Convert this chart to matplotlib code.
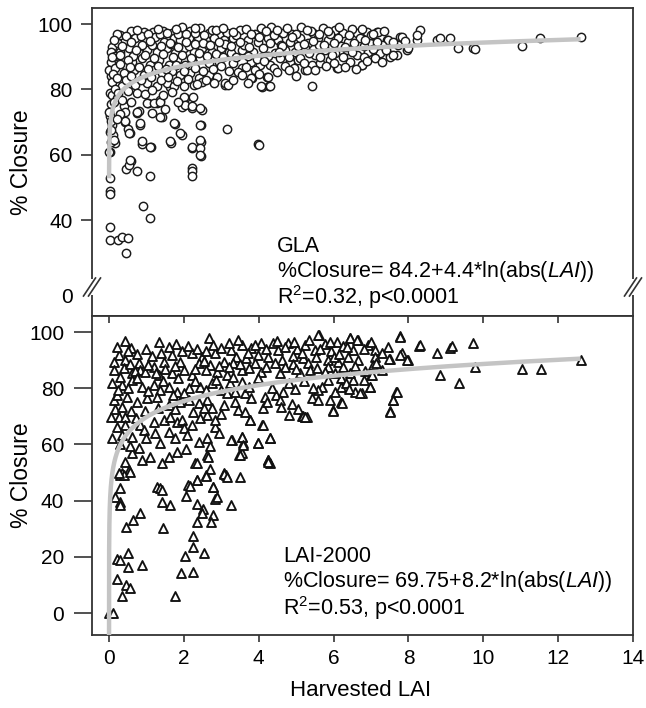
import numpy as np
import matplotlib
matplotlib.use("Agg")
import matplotlib.pyplot as plt
from matplotlib.lines import Line2D
from matplotlib.patches import Rectangle

plt.rcParams['font.family'] = ['Liberation Sans', 'DejaVu Sans']
plt.rcParams['mathtext.fontset'] = 'custom'
plt.rcParams['mathtext.rm'] = 'Liberation Sans'
plt.rcParams['mathtext.it'] = 'Liberation Sans:italic'

# ---------------- data ----------------
gla_pts = [
    (0.02,61),(0.02,53),(0.03,49),(0.03,48),(0.03,38),(0.03,34),(0.25,34),(0.35,35),(0.5,34.6),(0.45,30),
    (0.6,58.2),(0.45,55.7),(0.53,57),(0.75,55),(1.1,53.6),(0.9,44.4),(1.1,40.7),(2.22,56),(2.22,55),(2.22,53.6),
    (2.46,59.7),(2.22,62),(0.02,67),(0.08,69),(0.16,63.6),(0.56,66.7),(0.88,63.4),(1.12,62.5),(0.83,69.2),(0.43,70),
    (0.5,68),(1.42,71.5),(1.76,69.5),(1.95,66),(1.65,63.7),(2.46,64),(2.46,69),(3.15,68),(3.98,63.4),(4.0,63.0),
    (0.75,72.8),(0.8,73.5),(1.05,75.8),(1.28,75.8),(1.36,76.8),(1.95,74.7),(2.22,74.3),(2.49,73.7),(2.03,77.4),(2.25,77.7),
    (1.63,80.8),(3.1,81.4),(4.09,80.7),(4.28,81),(5.43,81),(4.22,83.8),(3.82,83.4),(5.24,86),(6.1,86.5),
    (6.76,87.5),(7.7,90.5),(7.97,92),(8.3,98.2),(8.23,95),(8.77,95),(8.85,95.7),(9.12,95.7),(9.33,92.7),(9.73,92.7),
    (9.78,92.3),(11.04,93.3),(11.52,95.7),(12.6,96),(7.78,96),(7.17,97.6),(7.43,95),(7.5,90.5),(7.2,91),
    (0.05,84),(0.02,79),(0.06,75.5),(0.03,72),(0.1,66),(0.05,64),
    (0.6,97.9),(0.93,97.7),(1.18,97.7),(1.43,97.9),(1.68,97.2),(1.95,99.2),(2.17,97.9),(2.42,98.7),(2.66,97.2),(2.93,96.6),(3.15,97.2),
    (0.08,93),(0.24,94.1),(0.44,95.1),(0.7,95.6),(0.97,95.1),(1.24,96.1),(1.46,94.6),(1.73,95.6),(1.9,95.1),(2.13,95.6),
    (2.38,96.1),(2.58,95.1),(2.8,95.6),(3.07,95.1),
    (0.04,91.5),(0.3,91.5),(0.53,92.6),(0.79,91),(1.02,92),(1.28,91.5),(1.55,92.6),(1.77,91),(2.0,92.6),(2.26,91.5),
    (2.49,92.6),(2.75,91.5),(2.98,92.6),(3.2,91.5),
    (0.04,88.5),(0.21,89.5),(0.44,87.5),(0.62,88.5),(0.88,89.5),(1.1,87.5),(1.33,89),(1.6,87.5),(1.82,89),(2.04,87.5),
    (2.22,88.5),(2.44,89.5),(2.66,88),(2.93,88.5),
    (0.0,86),(0.17,86.5),(0.39,85),(0.66,86),(0.93,84.4),(1.19,86),(1.42,85),(1.68,85.5),(1.9,84.4),(2.17,85),
    (2.4,83.4),(2.66,84.4),(2.89,83.9),(3.11,81.9),
    (0.08,82.4),(0.35,80.9),(0.7,81.4),(1.02,81.9),(1.28,80.9),(1.55,81.9),(1.73,80.9),(2.0,80.9),(2.26,81.4),(2.49,82.4),
    (0.08,78.3),(0.21,77.3),(0.75,78.8),(1.02,75.8),(1.2,75.8),(1.37,76.3),(1.68,79.3),(2.0,77.8),(2.04,75.3),(2.22,74.8),(2.44,74.3),
    (0.0,73.2),(0.04,70.2),(0.39,74.8),(0.44,73.2),(0.75,73.2),(0.84,69.7),(0.42,70.2),(0.53,66.6),(1.37,71.7),(1.73,69.7),(2.44,69.2),
    (0.04,67.6),(0.13,64.6),(0.88,64.1),(1.1,62.5),(1.64,64.1),(1.9,66.6),(2.22,62.5),(2.44,64.6),(2.44,62),(2.44,60),(0.0,61),(0.57,58.5),
    (3.5,98.2),(4.07,98.7),(4.34,99.2),(4.65,97.2),(5.14,99.2),(5.46,97.2),(5.72,98.7),(6.04,98.2),(6.26,97.2),(6.62,97.2),
    (6.89,97.7),(7.2,97.7),(7.82,96.1),(8.22,96.6),
    (3.31,95.6),(3.71,95.1),(3.98,94.6),(4.25,95.6),(4.52,95.1),(4.83,94.6),(5.1,95.6),(5.32,94.1),(5.59,95.6),(5.86,95.1),
    (6.12,95.6),(6.39,94.6),(6.71,95.6),(6.98,94.1),(7.46,95.1),(7.73,93.6),
    (3.27,91),(3.54,92.1),(3.85,91.5),(4.12,92.6),(4.43,91),(4.7,92.1),(4.97,91.5),(5.23,92.6),(5.5,90.5),(5.77,92.1),
    (6.04,91),(6.35,92.1),(6.62,90.5),(6.93,91.5),(7.24,91),(7.51,90),(8.0,92.6),
    (3.31,88),(3.54,86.5),(3.8,88.5),(4.03,87.5),(4.29,87.5),(4.56,89.5),(4.83,88.5),(5.05,89),(5.41,87.5),(5.64,88),
    (5.9,89),(6.12,86.5),(6.44,88.5),(6.75,87.5),(7.11,89.5),(7.6,90.5),
    (3.18,81.4),(3.8,83.4),(4.25,83.9),(4.07,80.9),(4.29,80.9),(5.28,86),(3.45,85.4),
    (0.3,96.5),(0.85,96.3),(1.35,96.8),(1.85,97.0),(2.3,97.3),(2.75,98.3),(3.4,96.6),(3.9,97.0),(4.4,96.5),(4.9,96.8),
    (5.4,98.0),(5.9,96.8),(6.5,98.5),(7.0,96.5),(0.15,90.2),(0.65,90.3),(1.15,93.5),(1.65,93.8),(2.15,93.4),(2.65,93.7),
    (3.1,93.8),(3.6,93.6),(4.1,90.0),(4.6,93.6),(5.05,93.3),(5.6,93.5),(6.2,93.4),(6.8,93.2),(7.3,93.6),
    (0.2,97.0),(0.45,96.2),(0.75,98.3),(1.05,96.9),(1.3,98.6),(1.55,97.4),(1.8,98.4),(2.05,96.8),(2.3,98.9),(2.55,96.6),
    (2.85,98.1),(3.05,98.8),(3.3,97.6),(3.65,98.4),(3.8,96.9),(4.2,97.9),(4.5,98.3),(4.75,98.8),(5.0,96.9),(5.3,98.1),
    (5.6,96.8),(5.85,97.8),(6.15,99.0),(6.4,96.5),(6.75,98.6),(7.05,97.0),(7.35,98.0),
    (0.12,95.2),(0.35,93.3),(0.58,94.4),(0.88,93.6),(1.1,94.8),(1.4,93.2),(1.62,94.3),(1.85,93.1),(2.05,94.6),(2.3,93.9),
    (2.52,94.3),(2.7,93.5),(2.95,94.4),(3.25,93.3),(3.5,94.5),(3.75,93.1),(4.0,96.0),(4.3,94.1),(4.62,93.4),(4.9,95.9),
    (5.2,93.9),(5.45,94.9),(5.75,93.6),(6.0,94.3),(6.3,93.1),(6.55,94.2),(6.85,95.2),(7.15,94.6),(7.6,94.4),(7.9,94.9),
    (0.08,89.8),(0.28,90.6),(0.5,89.1),(0.72,92.0),(0.95,90.4),(1.2,89.5),(1.45,90.9),(1.7,89.9),(1.95,90.6),(2.18,89.7),
    (2.4,91.2),(2.62,90.1),(2.85,90.8),(3.05,89.9),(3.4,89.8),(3.7,90.3),(3.95,89.4),(4.25,90.2),(4.55,91.3),(4.8,90.0),
    (5.1,89.6),(5.35,91.0),(5.65,90.0),(5.95,90.4),(6.25,89.9),(6.5,91.3),(6.8,90.0),(7.05,92.3),(7.4,92.0),
    (0.1,84.8),(0.3,87.8),(0.55,87.0),(0.8,86.8),(1.05,86.1),(1.3,87.3),(1.52,86.3),(1.78,87.4),(2.0,85.7),(2.3,86.6),
    (2.5,85.5),(2.78,86.3),(3.0,87.1),(3.2,85.7),(3.65,87.0),(3.9,86.0),(4.15,88.6),(4.4,86.7),(4.7,87.1),(4.95,86.7),
    (5.2,88.1),(5.5,86.0),(5.8,87.2),(6.0,88.0),(6.3,87.0),(6.6,86.3),(6.9,88.8),(7.3,88.4),
    (0.2,83.6),(0.45,83.0),(0.6,84.0),(0.85,82.8),(1.12,83.8),(1.38,83.0),(1.58,83.9),(1.82,82.6),(2.1,83.3),(2.35,81.8),
    (2.6,82.9),(2.8,82.0),(3.3,83.0),(3.55,84.5),(3.7,82.0),(4.0,84.8),(4.5,85.2),(4.8,86.0),(5.0,84.0),
    (0.15,80.2),(0.25,79.0),(0.12,76.0),(0.3,72.5),(0.2,71.0),(0.35,76.8),(0.5,79.5),(0.6,76.0),(0.95,78.5),(1.15,79.8),
    (1.45,78.4),(1.85,76.2),(1.5,74.0),(1.15,72.8),
]

lai_pts = [
    (0.44,96.9),(0.6,94.2),(1.33,96.6),(1.79,95.7),(2.66,97.7),
    (0.26,91.8),(0.13,89.4),(0.44,90),(0.8,88.8),(0.84,86.5),(1.19,87.7),(1.46,89.4),(1.68,91.8),(1.9,89.4),(2.22,92.4),
    (2.49,91.2),(2.84,92.4),(3.07,89.4),(2.4,88.8),(2.71,88.3),
    (0.13,86.5),(0.4,87.1),(0.62,85.3),(0.97,85.9),(1.33,84.7),(1.68,85.3),(2.0,86.5),(2.22,84.7),(2.58,86.5),(2.89,85.9),(3.16,84.7),
    (0.08,81.7),(0.35,81.1),(0.62,82.9),(0.89,80.5),(1.19,81.1),(1.37,79.4),(1.6,80.5),(1.82,78.8),(2.13,80),(2.44,80.5),
    (2.75,81.7),(2.98,79.4),(3.16,78.2),
    (0.13,75.8),(0.21,77.6),(0.48,77),(0.75,75.2),(1.02,76.4),(1.28,77),(1.6,74),(1.9,75.2),(2.13,75.8),(2.4,74.6),
    (2.62,75.8),(2.75,72.8),(3.07,74),
    (0.04,69.9),(0.26,69.9),(0.44,69.9),(0.21,66.3),(0.44,66.9),(0.71,69.3),(0.84,66.9),(0.93,65.1),(1.19,68.1),(1.46,68.7),
    (1.64,69.9),(1.82,68.1),(1.95,68.7),(2.0,65.7),(2.22,66.9),(2.44,69.3),(2.62,70.5),(2.84,66.3),(2.84,68.7),
    (0.08,62.2),(0.35,63.3),(0.62,62.8),(0.98,62.2),(1.24,63.9),(1.6,64.5),(1.77,62.2),(2.09,63.3),(2.4,61),(2.62,62.2),(2.93,63.9),
    (0.44,53.8),(0.62,56.8),(0.8,58.6),(0.89,54.4),(1.1,55.6),(1.42,53.3),(1.6,55.6),(1.82,57.4),(2.31,53.3),(2.62,56.2),
    (0.53,50.9),(0.35,49.7),(0.3,49.1),(0.4,49.1),(0.26,49.7),
    (3.28,61.6),(3.55,62.8),(3.57,60.4),(3.99,60.4),(4.29,62.2),(4.1,66.9),(3.77,68.7),(3.46,56.2),(3.55,57.1),(4.26,54.4),
    (4.29,53.5),(2.64,55.6),(2.35,53.5),(2.7,51.1),(2.59,49.1),(3.06,49.7),(3.13,49.1),(3.5,48.5),(2.35,47.3),(2.12,45.6),
    (2.79,45),(1.27,45),(1.36,44.4),(5.24,69.9),(5.15,70.1),(5.6,98.9),
    (0.56,50.3),(0.28,44.4),(0.16,41.4),(0.28,39.6),(0.29,38.4),(0.63,33.1),(0.83,35.7),(0.46,30.5),(1.41,43.8),(1.41,39.6),
    (1.63,38.4),(1.43,30.1),(2.06,41.6),(2.17,45.2),(2.34,47.3),(2.59,48.8),(2.79,44.7),(2.83,40.5),(2.88,41.2),(2.34,38.8),
    (2.5,36.9),(2.48,35.7),(2.34,32.5),(2.77,34.9),(2.72,32.5),(3.06,49.5),(3.15,48.5),(3.25,38.4),
    (2.24,27.4),(2.24,23.4),(2.03,20.3),(2.55,21.2),(1.93,14.1),(2.24,14.7),(1.77,6.05),
    (0.2,19.1),(0.28,18.9),(0.52,21.3),(0.52,16.5),(0.87,17),(0.22,12.3),(0.46,10),(0.56,8.8),(0.34,6),(0.01,-0.1),(0.1,0),
    (5.59,98.9),(6.43,97.7),(7.77,98.6),(6.08,96.6),(6.66,97.2),
    (3.54,95.4),(4.07,96),(4.38,96.2),(4.78,96),(5.23,95.4),(5.76,95.7),(6.25,95),(6.92,95.4),(7.46,94.8),(3.27,93.6),
    (3.8,94.2),(4.52,93.6),(5.01,93.8),(5.5,93.6),(5.94,93.4),(6.52,93.6),(7.1,93.6),(7.82,92.4),
    (3.4,91.2),(3.67,90.6),(3.98,91.8),(4.25,91.2),(4.61,90),(4.92,91.5),(5.19,90.6),(5.54,91.2),(5.85,90),(6.12,89.4),
    (6.39,91.2),(6.66,90),(7.1,91.2),(7.5,90.3),(7.99,90),(3.31,88.8),(3.89,88.8),(4.43,89.1),(4.92,88.6),(5.32,88.8),
    (5.85,87.7),(6.25,87.7),(6.57,87.9),(7.06,88.3),
    (3.54,86.5),(4.07,85.9),(4.56,85.3),(5.1,85.3),(5.36,86.5),(5.76,85.9),(6.21,83.5),(6.52,82.9),(7.01,84.7),(3.98,83.5),
    (3.54,82.3),(3.22,81.7),
    (3.36,78.8),(3.63,78.2),(3.8,76.4),(4.16,77),(4.47,77.6),(4.65,78.8),(4.96,79.9),(5.68,80.5),(5.9,75.8),(6.03,78.8),
    (6.21,80.5),(6.34,81.7),(6.57,78.8),(6.75,78.2),(6.97,80.5),(7.68,78.8),(7.59,75.8),(7.5,72),
    (3.36,75.2),(3.45,72.3),(3.63,71.6),(4.12,72.8),(4.21,75.2),(4.56,75.8),(5.41,76.4),(5.59,75.8),(5.59,79.4),(6.21,75.2),
    (5.99,72.3),(3.76,68.7),(4.12,66.9),(5.19,70.1),(5.28,69.9),
    (3.27,61.6),(3.54,62.8),(3.58,59.8),(3.98,60.6),(4.29,62.2),(3.49,56.2),(4.25,54.5),(4.25,53.9),
    (7.78,98.1),(8.27,95),(8.32,95.4),(8.76,92.4),(9.12,94.2),(9.17,95),(9.73,96),(8.84,84.7),(9.34,82),(9.79,87.4),
    (11.04,86.7),(11.55,86.7),(12.6,90),(7.69,78.8),(7.6,75.8),(7.52,71.7),
    (7.78,91.8),(7.96,90),(7.47,90.3),(7.12,88.8),(7.03,84.7),(6.96,80.5),(6.71,78.2),(6.22,74.6),(5.98,72),(5.24,69.9),
    (6.0,91.2),(6.45,97.7),(6.63,97.2),
    (0.2,94.6),(0.5,93.4),(0.75,92.3),(1.0,93.8),(1.15,91.4),(1.4,92.7),(1.6,94.6),(1.95,93.1),(2.1,95.2),(2.35,94.0),
    (2.6,93.1),(2.78,95.5),(3.0,94.2),(3.2,96.0),(3.45,97.0),(3.7,92.6),(3.9,95.5),(4.2,93.8),(4.5,96.9),(4.7,94.6),
    (4.95,96.5),(5.15,92.7),(5.35,97.2),(5.65,94.0),(5.9,96.4),(6.15,92.3),(6.35,94.5),(6.8,93.8),(7.0,96.5),(7.3,92.7),
    (0.3,84.0),(0.55,88.6),(0.7,86.0),(1.05,88.4),(1.25,85.3),(1.5,86.7),(1.75,88.0),(1.85,83.7),(2.3,87.0),(2.55,89.7),
    (2.95,88.0),(3.2,87.5),(3.5,88.5),(3.75,87.2),(4.2,87.5),(4.7,87.4),(5.0,86.8),(5.55,87.3),(6.05,85.5),(6.45,85.4),
    (6.85,86.2),(7.3,86.4),
    (0.25,79.2),(0.5,80.2),(0.75,83.6),(1.05,79.0),(1.45,82.5),(1.7,77.5),(2.0,78.2),(2.3,82.6),(2.6,79.3),(2.85,83.0),
    (3.3,84.0),(3.75,80.5),(4.35,80.0),(4.8,81.8),(5.2,82.7),(5.45,80.2),(5.85,82.8),(6.4,79.8),(6.8,83.0),
    (0.15,72.5),(0.35,73.5),(0.6,72.0),(0.95,71.8),(1.3,73.0),(1.75,72.5),(2.25,71.5),(2.55,73.0),(3.0,71.0),(0.3,60.0),
    (0.55,59.5),(1.35,60.5),(2.05,58.5),(2.7,59.4),(4.6,73.5),(4.9,74.5),(5.05,72.5),(4.8,70.5),
]

gla_x = [p[0] for p in gla_pts]
gla_y = [p[1] for p in gla_pts]
lai_x = [p[0] for p in lai_pts]
lai_y = [p[1] for p in lai_pts]

# fitted curves: %Closure = a + b*ln(LAI)
gla_fit = (84.2, 4.4)
lai_fit = (69.75, 8.2)

x_ticks = [0, 2, 4, 6, 8, 10, 12, 14]
top_yticks = [40, 60, 80, 100]
bot_yticks = [0, 20, 40, 60, 80, 100]

# ---------------- figure ----------------
W, H = 646, 708
fig = plt.figure(figsize=(W / 100, H / 100), dpi=100)

def fx(px):
    return px / W

def fy(py):
    return 1 - py / H

L, R = 92, 633
ax1 = fig.add_axes([fx(L), fy(316), fx(R) - fx(L), fy(8) - fy(316)])
ax2 = fig.add_axes([fx(L), fy(635), fx(R) - fx(L), fy(316) - fy(635)])

spine_col = '#333333'
xlim = (-0.455, 14.0)
tfs = 15
lfs = 16.5

# top panel
ax1.scatter(gla_x, gla_y, s=36, facecolors='white', edgecolors='#1a1a1a', linewidths=1.05, zorder=2)
xc1 = np.logspace(np.log10(8e-4), np.log10(12.6), 500)
ax1.plot(xc1, gla_fit[0] + gla_fit[1] * np.log(xc1), color='#c4c4c4', lw=3.2, zorder=3, solid_capstyle='butt')
ax1.set_xlim(*xlim)
ax1.set_ylim(10.7, 104.9)
zero_pos = 17.1
ax1.set_yticks(top_yticks + [zero_pos])
ax1.set_yticklabels([str(v) for v in top_yticks] + ['0'])
ax1.tick_params(axis='y', direction='out', length=8, width=1.2, color=spine_col, labelsize=tfs, pad=6)
ax1.yaxis.get_major_ticks()[-1].tick1line.set_visible(False)
ax1.set_xticks([])

# bottom panel
ax2.scatter(lai_x, lai_y, s=42, marker='^', facecolors='white', edgecolors='#111111', linewidths=1.35, zorder=2)
xc2 = np.logspace(np.log10(4e-5), np.log10(12.6), 500)
ax2.plot(xc2, lai_fit[0] + lai_fit[1] * np.log(xc2), color='#c4c4c4', lw=3.2, zorder=3, solid_capstyle='butt')
ax2.set_xlim(*xlim)
ax2.set_ylim(-7.8, 105.7)
ax2.set_yticks(bot_yticks)
ax2.set_xticks(x_ticks)
ax2.tick_params(axis='y', direction='out', length=13, width=1.2, color=spine_col, labelsize=tfs, pad=7)
ax2.tick_params(axis='x', direction='out', length=5, width=1.2, color=spine_col, labelsize=tfs, pad=5,
                top=False, bottom=True)
sec = ax2.secondary_xaxis('top')
sec.set_xticks(x_ticks[:-1])
sec.tick_params(direction='in', length=5, width=1.2, color=spine_col, labeltop=False)
sec.spines['top'].set_visible(False)

for ax in (ax1, ax2):
    for s in ax.spines.values():
        s.set_color(spine_col)
        s.set_linewidth(1.3)

fig.text(fx(22), fy(162), '% Closure', fontsize=lfs, rotation=90, ha='center', va='center')
fig.text(fx(22), fy(475), '% Closure', fontsize=lfs, rotation=90, ha='center', va='center')
fig.text(fx(361), fy(690), 'Harvested LAI', fontsize=16, ha='center', va='center')

# annotations
fs = 15.5
fig.text(fx(277), fy(247), 'GLA', fontsize=fs, ha='left', va='center')
fig.text(fx(277), fy(272), r'%Closure= 84.2+4.4*ln(abs($\it{LAI}$))', fontsize=fs, ha='left', va='center')
fig.text(fx(277), fy(297), r'R$^2$=0.32, p<0.0001', fontsize=fs, ha='left', va='center')
fig.text(fx(283), fy(557), 'LAI-2000', fontsize=fs, ha='left', va='center')
fig.text(fx(283), fy(582), r'%Closure= 69.75+8.2*ln(abs($\it{LAI}$))', fontsize=fs, ha='left', va='center')
fig.text(fx(283), fy(608), r'R$^2$=0.53, p<0.0001', fontsize=fs, ha='left', va='center')

# axis break marks
def brk(cx, cy):
    fig.patches.append(Rectangle((fx(cx - 3), fy(cy + 8)), fx(6), fy(0) - fy(16),
                                 transform=fig.transFigure, facecolor='white', edgecolor='none', zorder=5))
    for dx in (-2.5, 2.5):
        fig.lines.append(Line2D([fx(cx + dx - 6), fx(cx + dx + 6)], [fy(cy + 9), fy(cy - 9)],
                                transform=fig.transFigure, color=spine_col, lw=1.2, zorder=6))

brk(L, 287)
brk(R, 287)

fig.savefig('out.png', dpi=100)
